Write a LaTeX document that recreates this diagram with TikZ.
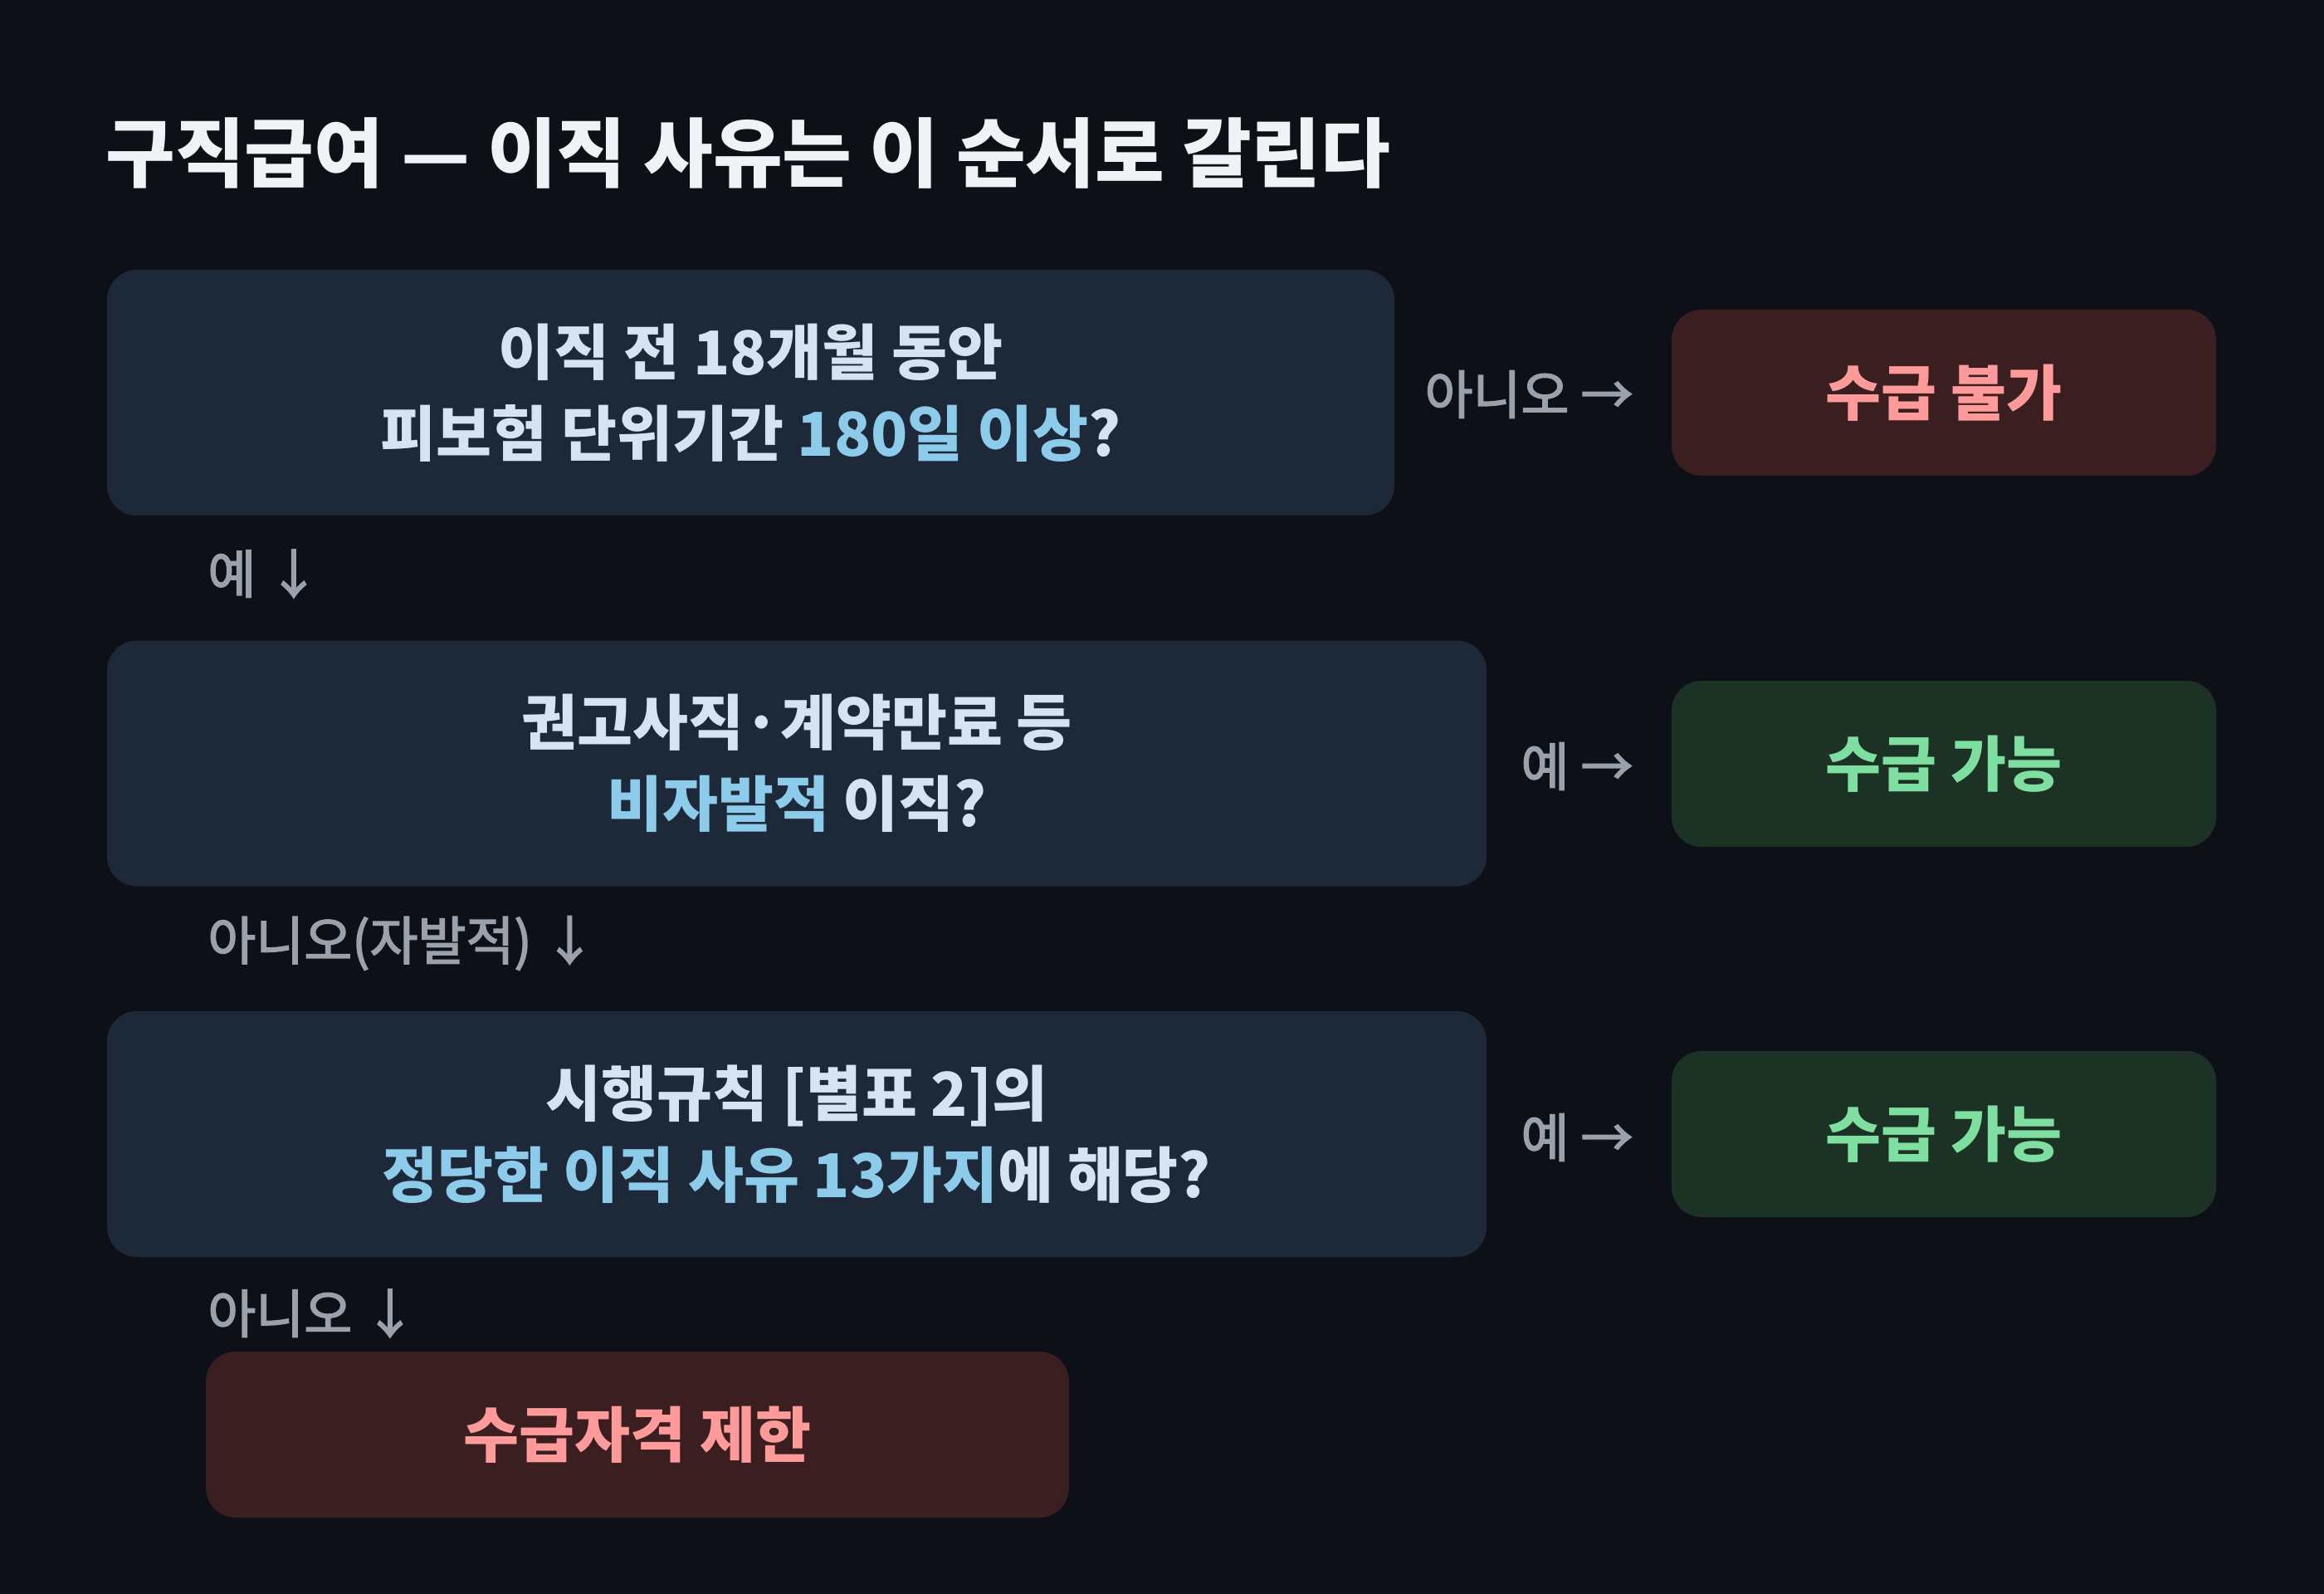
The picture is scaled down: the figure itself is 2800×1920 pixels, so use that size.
\documentclass[tikz,border=0pt]{standalone}
\usepackage{fontspec}
\newfontfamily\kr{Noto Sans CJK KR}
\newfontfamily\krm[FakeBold=2.5]{Noto Sans CJK KR}
\definecolor{bg}{HTML}{0D1117}
\definecolor{qfill}{HTML}{1D2939}
\definecolor{rfill}{HTML}{3B1E1F}
\definecolor{gfill}{HTML}{1B3224}
\definecolor{qtext}{HTML}{D5E3F4}
\definecolor{hl}{HTML}{8CCBEA}
\definecolor{rtext}{HTML}{FF9A9A}
\definecolor{gtext}{HTML}{7EDFA0}
\definecolor{lbl}{HTML}{9AA1AB}
\definecolor{ttl}{HTML}{F0F3F6}
\tikzset{
  qbox/.style={fill=qfill, rounded corners=18pt, minimum height=148pt, align=center,
    text=qtext, font=\kr\bfseries\fontsize{36.4}{49}\selectfont, inner sep=0pt},
  rbox/.style={fill=rfill, rounded corners=18pt, minimum height=100pt,
    text=rtext, font=\kr\bfseries\fontsize{36.4}{42}\selectfont, inner sep=0pt},
  gbox/.style={fill=gfill, rounded corners=18pt, minimum height=100pt,
    text=gtext, font=\kr\bfseries\fontsize{36.4}{42}\selectfont, inner sep=0pt},
  lab/.style={text=lbl, font=\krm\fontsize{31.5}{36}\selectfont, inner sep=0pt},
}
\newcommand{\hlt}[1]{\textcolor{hl}{#1}}
\begin{document}
\begin{tikzpicture}[x=0.5pt,y=-0.5pt]
\useasboundingbox (0,0) rectangle (2800,1920);
\fill[bg] (0,0) rectangle (2800,1920);

\node[anchor=west, text=ttl, font=\kr\bfseries\fontsize{45.5}{52}\selectfont, inner sep=0pt] (title) at (127,184) {구직급여 — 이직 사유는 이 순서로 갈린다};

\node[qbox, minimum width=775.5pt] (q1) at (904.5,473) {이직 전 18개월 동안\\피보험 단위기간 \hlt{180일 이상}?};
\node[qbox, minimum width=831pt] (q2) at (960,919.5) {권고사직·계약만료 등\\\hlt{비자발적} 이직?};
\node[qbox, minimum width=831pt] (q3) at (960,1366) {시행규칙 [별표 2]의\\\hlt{정당한 이직 사유 13가지}에 해당?};

\node[rbox, minimum width=328pt] (r1) at (2342,473) {수급 불가};
\node[gbox, minimum width=328pt] (g2) at (2342,920) {수급 가능};
\node[gbox, minimum width=328pt] (g3) at (2342,1366) {수급 가능};
\node[rbox, minimum width=520pt] (r4) at (768,1728) {수급자격 제한};

\node[lab, anchor=east] (l1) at (1968,475) {아니오 →};
\node[lab, anchor=east] (l2) at (1968,923) {예 →};
\node[lab, anchor=east] (l3) at (1968,1370) {예 →};
\node[lab, anchor=west] (d1) at (250,691) {예 ↓};
\node[lab, anchor=west] (d2) at (250,1136) {아니오(자발적) ↓};
\node[lab, anchor=west] (d3) at (250,1582) {아니오 ↓};
\end{tikzpicture}
\end{document}
